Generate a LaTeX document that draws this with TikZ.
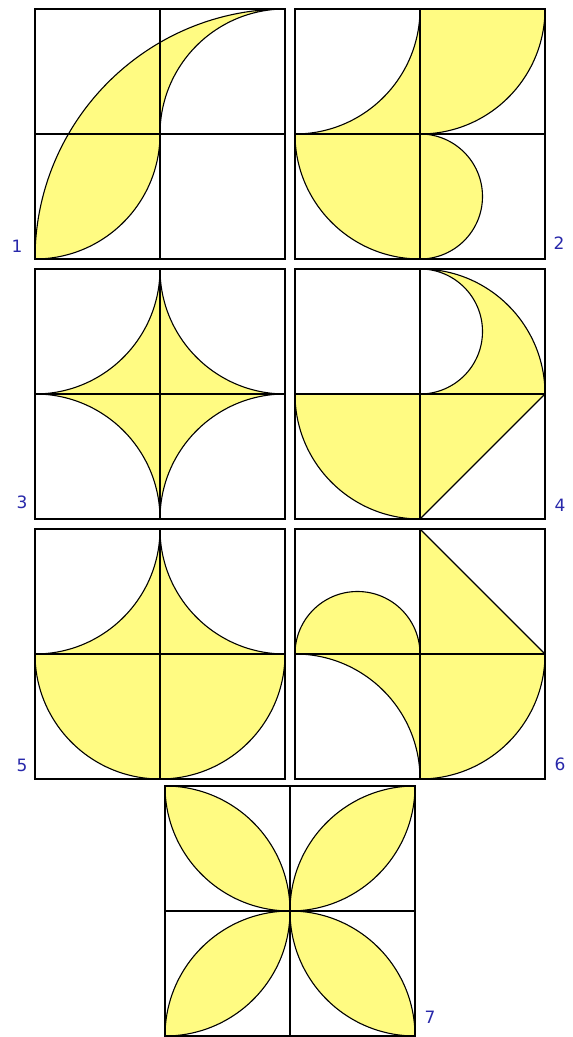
\documentclass[tikz,border=0pt]{standalone}
\usepackage{fontspec}
\setmainfont{DejaVu Sans}
\definecolor{fillyel}{RGB}{255,251,130}
\definecolor{lblblue}{RGB}{40,40,170}
\begin{document}
\begin{tikzpicture}[x=1pt,y=1pt,
  yelshape/.style={fill=fillyel,draw=black,line width=1.1pt,line join=round},
  gridln/.style={draw=black,line width=1.1pt},
  lbl/.style={text=lblblue,font=\fontsize{17}{17}\selectfont,inner sep=0pt}]
\useasboundingbox (0,0) rectangle (573,1037);
\fill[white] (0,0) rectangle (573,1037);
\newcommand{\gridsq}{\draw[gridln] (0,0) rectangle (250,250) (125,0)--(125,250) (0,125)--(250,125);}
% Square 1
\begin{scope}[shift={(35,778)}]
  \path[yelshape] (0,0) arc[start angle=180,end angle=90,radius=250]
     arc[start angle=90,end angle=180,radius=125]
     arc[start angle=0,end angle=-90,radius=125] -- cycle;
  \gridsq
\end{scope}
% Square 2
\begin{scope}[shift={(295,778)}]
  \path[yelshape] (0,125) -- (125,125) -- (125,250) arc[start angle=0,end angle=-90,radius=125] -- cycle;
  \path[yelshape] (125,250) -- (250,250) arc[start angle=0,end angle=-90,radius=125] -- cycle;
  \path[yelshape] (125,125) -- (0,125) arc[start angle=180,end angle=270,radius=125] -- cycle;
  \path[yelshape] (125,125) arc[start angle=90,end angle=-90,radius=62.5] -- cycle;
  \gridsq
\end{scope}
% Square 3
\begin{scope}[shift={(35,518)}]
  \path[yelshape] (125,250) arc[start angle=0,end angle=-90,radius=125]
     arc[start angle=90,end angle=0,radius=125]
     arc[start angle=180,end angle=90,radius=125]
     arc[start angle=270,end angle=180,radius=125] -- cycle;
  \gridsq
\end{scope}
% Square 4
\begin{scope}[shift={(295,518)}]
  \path[yelshape] (125,250) arc[start angle=90,end angle=0,radius=125] -- (125,125)
     arc[start angle=-90,end angle=90,radius=62.5] -- cycle;
  \path[yelshape] (125,125) -- (0,125) arc[start angle=180,end angle=270,radius=125] -- cycle;
  \path[yelshape] (125,125) -- (250,125) -- (125,0) -- cycle;
  \gridsq
\end{scope}
% Square 5
\begin{scope}[shift={(35,258)}]
  \path[yelshape] (0,125) arc[start angle=180,end angle=360,radius=125]
     arc[start angle=270,end angle=180,radius=125]
     arc[start angle=0,end angle=-90,radius=125] -- cycle;
  \gridsq
\end{scope}
% Square 6
\begin{scope}[shift={(295,258)}]
  \path[yelshape] (0,125) arc[start angle=180,end angle=0,radius=62.5] -- cycle;
  \path[yelshape] (0,125) -- (125,125) -- (125,0) arc[start angle=0,end angle=90,radius=125] -- cycle;
  \path[yelshape] (125,250) -- (250,125) -- (125,125) -- cycle;
  \path[yelshape] (125,125) -- (250,125) arc[start angle=0,end angle=-90,radius=125] -- cycle;
  \gridsq
\end{scope}
% Square 7
\begin{scope}[shift={(165,1)}]
  \path[yelshape] (0,250) arc[start angle=90,end angle=0,radius=125]
     arc[start angle=270,end angle=180,radius=125] -- cycle;
  \path[yelshape] (250,250) arc[start angle=90,end angle=180,radius=125]
     arc[start angle=270,end angle=360,radius=125] -- cycle;
  \path[yelshape] (0,0) arc[start angle=270,end angle=360,radius=125]
     arc[start angle=90,end angle=180,radius=125] -- cycle;
  \path[yelshape] (250,0) arc[start angle=270,end angle=180,radius=125]
     arc[start angle=90,end angle=0,radius=125] -- cycle;
  \gridsq
\end{scope}
% Labels
\node[lbl] (l1) at (17,791) {1};
\node[lbl] (l2) at (559,794) {2};
\node[lbl] (l3) at (22,535) {3};
\node[lbl] (l4) at (560,532) {4};
\node[lbl] (l5) at (22,272) {5};
\node[lbl] (l6) at (560,272.5) {6};
\node[lbl] (l7) at (430,20) {7};
\end{tikzpicture}
\end{document}
